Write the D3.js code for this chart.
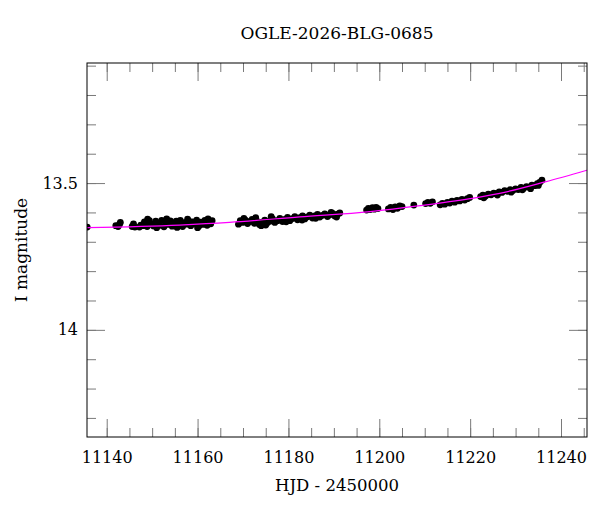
<!DOCTYPE html>
<html>
<head>
<meta charset="utf-8">
<script src="https://cdn.jsdelivr.net/npm/d3@7"></script>
<style>
  html, body { margin: 0; padding: 0; background: #fff; }
  svg text { font-family: "DejaVu Serif", serif; fill: #000; }
</style>
</head>
<body>
<svg id="chart" width="600" height="512"></svg>
<script>
const title = 'OGLE-2026-BLG-0685';
const xLabel = 'HJD - 2450000';
const yLabel = 'I magnitude';

const xMajor = [11140, 11160, 11180, 11200, 11220, 11240];
const xMinor = [11140, 11145, 11150, 11155, 11160, 11165, 11170, 11175, 11180, 11185, 11190,
  11195, 11200, 11205, 11210, 11215, 11220, 11225, 11230, 11235, 11240, 11245];
const yMajor = [13.5, 14];
const yMinor = [13.1, 13.2, 13.3, 13.4, 13.5, 13.6, 13.7, 13.8, 13.9, 14, 14.1, 14.2, 14.3];

// observations (HJD - 2450000, I mag)
const hjd = [
  11135.7,
  11142.0, 11142.5, 11142.8, 11143.0,
  11145.6, 11145.9, 11146.2,
  11147.2, 11147.5, 11148.0, 11148.3, 11148.9, 11149.4, 11149.8, 11150.3, 11150.8, 11151.2,
  11151.7, 11152.1, 11152.6, 11153.0, 11153.5, 11154.0, 11154.4, 11154.9, 11155.3, 11155.8,
  11156.2, 11156.7, 11157.1, 11157.6, 11158.0, 11158.5, 11158.9, 11159.4, 11159.8, 11160.3,
  11160.7, 11161.2, 11161.6, 11162.1, 11162.5, 11162.9, 11163.2,
  11149.0, 11151.0, 11153.2, 11155.5, 11157.8, 11160.0, 11162.3,
  11169.0, 11169.4, 11169.9, 11170.5, 11171.0, 11171.5, 11172.0, 11172.5, 11173.0, 11173.6,
  11174.0, 11174.2, 11174.8, 11175.0, 11175.3, 11175.9, 11176.5, 11177.0, 11177.6, 11178.1,
  11178.7, 11179.2, 11179.8, 11180.3, 11180.9, 11181.4, 11182.0, 11182.5, 11183.1, 11183.6,
  11184.2, 11184.7, 11185.3, 11185.8, 11186.4, 11186.9, 11187.5, 11188.0, 11188.6, 11189.1,
  11189.7, 11190.2, 11190.8, 11191.3,
  11170.2, 11172.8, 11176.2, 11179.5, 11183.0, 11186.0, 11189.4, 11190.6,
  11197.2, 11197.6, 11198.0, 11198.5, 11198.9, 11199.3, 11199.7,
  11202.0, 11202.5, 11203.0, 11203.5, 11204.0, 11204.5, 11205.0,
  11207.6,
  11210.2, 11210.7, 11211.2, 11211.7,
  11213.4, 11213.9, 11214.4, 11215.0, 11215.5, 11216.0, 11216.6, 11217.1, 11217.7, 11218.2,
  11218.8, 11219.4, 11219.9,
  11222.3, 11222.8, 11223.4, 11224.0, 11224.6, 11225.2, 11225.8, 11226.4, 11227.0, 11227.6,
  11228.2, 11228.8, 11229.4, 11230.0, 11230.6, 11231.2, 11231.8, 11232.4, 11233.0, 11233.6,
  11234.2, 11234.8, 11235.3, 11235.8,
  11223.0, 11226.0, 11229.0, 11231.5, 11233.3, 11235.0
];
const imag = [
  13.650,
  13.645, 13.648, 13.641, 13.634,
  13.648, 13.639, 13.650,
  13.650, 13.643, 13.645, 13.632, 13.648, 13.628, 13.640, 13.646, 13.630, 13.637,
  13.644, 13.627, 13.649, 13.634, 13.641, 13.629, 13.647, 13.636, 13.630, 13.643,
  13.627, 13.648, 13.635, 13.640, 13.628, 13.645, 13.632, 13.638, 13.626, 13.646,
  13.633, 13.641, 13.627, 13.644, 13.631, 13.639, 13.628,
  13.623, 13.652, 13.622, 13.651, 13.623, 13.652, 13.622,
  13.640, 13.628, 13.634, 13.626, 13.638, 13.631, 13.624, 13.637, 13.629, 13.641,
  13.645, 13.633, 13.626, 13.643, 13.636, 13.630, 13.622, 13.634, 13.628, 13.620,
  13.631, 13.624, 13.617, 13.628, 13.621, 13.614, 13.625, 13.618, 13.612, 13.622,
  13.615, 13.609, 13.619, 13.612, 13.607, 13.616, 13.610, 13.605, 13.614, 13.608,
  13.603, 13.612, 13.606, 13.602,
  13.620, 13.618, 13.614, 13.632, 13.626, 13.620, 13.600, 13.616,
  13.592, 13.586, 13.590, 13.584, 13.589, 13.583, 13.587,
  13.588, 13.583, 13.590, 13.581, 13.586, 13.578, 13.580,
  13.575,
  13.570, 13.566, 13.569, 13.564,
  13.574, 13.569, 13.572, 13.566, 13.568, 13.562, 13.565, 13.559, 13.561, 13.556,
  13.558, 13.553, 13.549,
  13.546, 13.541, 13.544, 13.538, 13.540, 13.534, 13.536, 13.530, 13.532, 13.526,
  13.528, 13.522, 13.525, 13.520, 13.522, 13.515, 13.518, 13.512, 13.514, 13.507,
  13.509, 13.502, 13.498, 13.490,
  13.550, 13.541, 13.531, 13.523, 13.519, 13.508
];

// model curve
const modelHjd = [11135.7, 11156.0, 11167.0, 11182.5, 11198.0, 11209.0, 11220.0, 11226.5, 11236.5, 11245.7];
const modelMag = [13.652, 13.643, 13.634, 13.615, 13.597, 13.577, 13.553, 13.535, 13.496, 13.456];

const margin = { top: 63, right: 13, bottom: 75, left: 87 };
const width = 600 - margin.left - margin.right;
const height = 512 - margin.top - margin.bottom;

const svg = d3.select('#chart');
const g = svg.append('g').attr('transform', `translate(${margin.left},${margin.top})`);

const x = d3.scaleLinear().domain([11135.66, 11245.72]).range([0, width]);
const y = d3.scaleLinear().domain([13.091, 14.365]).range([0, height]);

g.append('clipPath').attr('id', 'plot-clip')
  .append('rect').attr('width', width).attr('height', height);

const plot = g.append('g').attr('clip-path', 'url(#plot-clip)');

plot.append('g')
  .selectAll('circle')
  .data(hjd.map((t, i) => [t, imag[i]]))
  .join('circle')
  .attr('cx', (d) => x(d[0]))
  .attr('cy', (d) => y(d[1]))
  .attr('r', 3.4)
  .attr('fill', '#000');

plot.append('path')
  .datum(modelHjd.map((t, i) => [t, modelMag[i]]))
  .attr('fill', 'none')
  .attr('stroke', '#ff00ff')
  .attr('stroke-width', 1.2)
  .attr('d', d3.line().x((d) => x(d[0])).y((d) => y(d[1])).curve(d3.curveMonotoneX));

function styleAxis(sel) {
  sel.select('.domain').remove();
  sel.selectAll('.tick line').attr('stroke', '#7a7a7a').attr('stroke-width', 1);
  sel.selectAll('.tick text').attr('font-family', '"DejaVu Serif", serif').attr('font-size', 16).attr('fill', '#000');
}

const noLabel = () => '';

// minor ticks on all four sides
g.append('g').attr('transform', `translate(0,${height})`)
  .call(d3.axisBottom(x).tickValues(xMinor).tickSize(-9).tickFormat(noLabel)).call(styleAxis);
g.append('g')
  .call(d3.axisTop(x).tickValues(xMinor).tickSize(-9).tickFormat(noLabel)).call(styleAxis);
g.append('g')
  .call(d3.axisLeft(y).tickValues(yMinor).tickSize(-9).tickFormat(noLabel)).call(styleAxis);
g.append('g').attr('transform', `translate(${width},0)`)
  .call(d3.axisRight(y).tickValues(yMinor).tickSize(-9).tickFormat(noLabel)).call(styleAxis);

// major ticks with labels
g.append('g').attr('transform', `translate(0,${height})`)
  .call(d3.axisBottom(x).tickValues(xMajor).tickSize(-18).tickPadding(15).tickFormat((d) => d))
  .call(styleAxis);
g.append('g')
  .call(d3.axisTop(x).tickValues(xMajor).tickSize(-18).tickFormat(noLabel)).call(styleAxis);
g.append('g')
  .call(d3.axisLeft(y).tickValues(yMajor).tickSize(-18).tickPadding(9).tickFormat((d) => d))
  .call(styleAxis);
g.append('g').attr('transform', `translate(${width},0)`)
  .call(d3.axisRight(y).tickValues(yMajor).tickSize(-18).tickFormat(noLabel)).call(styleAxis);

g.append('rect')
  .attr('width', width)
  .attr('height', height)
  .attr('fill', 'none')
  .attr('stroke', '#000')
  .attr('stroke-width', 1);

svg.append('text')
  .attr('x', margin.left + width / 2)
  .attr('y', 39)
  .attr('text-anchor', 'middle')
  .attr('font-size', 17)
  .text(title);

svg.append('text')
  .attr('x', margin.left + width / 2)
  .attr('y', 491)
  .attr('text-anchor', 'middle')
  .attr('font-size', 16.5)
  .text(xLabel);

svg.append('text')
  .attr('transform', 'translate(27,250) rotate(-90)')
  .attr('text-anchor', 'middle')
  .attr('font-size', 17)
  .text(yLabel);
</script>
</body>
</html>
